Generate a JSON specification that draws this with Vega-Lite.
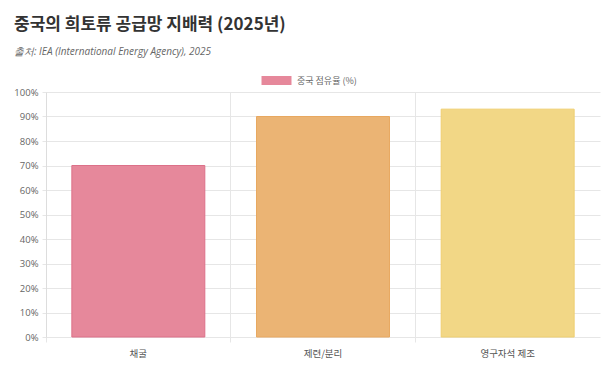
{
  "$schema": "https://vega.github.io/schema/vega-lite/v6.json",
  "width": 554,
  "height": 245,
  "autosize": {"type": "none"},
  "padding": {"left": 46, "top": 92, "right": 9, "bottom": 32},
  "background": "white",
  "config": {"view": {"stroke": null}, "font": "Noto Sans CJK KR"},
  "title": {
    "text": "중국의 희토류 공급망 지배력 (2025년)",
    "subtitle": "출처: IEA (International Energy Agency), 2025",
    "anchor": "start",
    "frame": "group",
    "font": "Noto Sans CJK KR",
    "fontSize": 17,
    "fontWeight": "bold",
    "color": "#333333",
    "subtitleFont": "Open Sans",
    "subtitleFontStyle": "italic",
    "subtitleFontSize": 10,
    "subtitleColor": "#666666",
    "subtitlePadding": 13,
    "dx": -32,
    "offset": 7
  },
  "data": {
    "values": [
      {"stage": "채굴", "share": 70},
      {"stage": "제련/분리", "share": 90},
      {"stage": "영구자석 제조", "share": 93}
    ]
  },
  "encoding": {
    "x": {
      "field": "stage",
      "type": "nominal",
      "sort": null,
      "scale": {"paddingInner": 0, "paddingOuter": 0},
      "axis": {
        "title": null,
        "labelAngle": 0,
        "bandPosition": 0,
        "grid": true,
        "gridColor": "#e6e6e6",
        "domain": false,
        "tickColor": "#e6e6e6",
        "tickSize": 5,
        "labelPadding": 6,
        "labelFontSize": 9.5,
        "labelColor": "#555555",
        "labelFont": "Noto Sans CJK KR"
      }
    },
    "y": {
      "field": "share",
      "type": "quantitative",
      "scale": {"domain": [0, 100]},
      "axis": {
        "title": null,
        "values": [0, 10, 20, 30, 40, 50, 60, 70, 80, 90, 100],
        "labelExpr": "datum.value + '%'",
        "gridColor": "#e6e6e6",
        "domainColor": "#dddddd",
        "tickColor": "#e6e6e6",
        "tickSize": 4,
        "labelPadding": 4,
        "labelFontSize": 9.5,
        "labelColor": "#666666",
        "labelFont": "Open Sans"
      }
    }
  },
  "layer": [
    {
      "mark": {"type": "bar", "width": {"band": 0.72}, "strokeWidth": 1},
      "encoding": {
        "fill": {
          "field": "stage",
          "type": "nominal",
          "sort": null,
          "scale": {"range": ["#e6889b", "#ebb474", "#f2d786"]},
          "legend": null
        },
        "stroke": {
          "field": "stage",
          "type": "nominal",
          "sort": null,
          "scale": {"range": ["#dc7189", "#e8a860", "#efcf70"]},
          "legend": null
        }
      }
    },
    {
      "mark": {"type": "point", "filled": true, "color": "#e6889b", "opacity": 0},
      "encoding": {
        "shape": {
          "datum": "중국 점유율 (%)",
          "scale": {"range": ["M-1,-0.3H1V0.3H-1Z"]},
          "legend": {
            "title": null,
            "orient": "none",
            "legendX": 215,
            "legendY": -27,
            "symbolSize": 900,
            "symbolFillColor": "#e6889b",
            "symbolStrokeColor": "#dc7189",
            "symbolStrokeWidth": 1,
            "symbolOpacity": 1,
            "labelFontSize": 9,
            "labelColor": "#666666",
            "labelFont": "Noto Sans CJK KR",
            "labelOffset": 5,
            "encode": {
              "symbols": {
                "update": {
                  "opacity": {"value": 1},
                  "fill": {"value": "#e6889b"},
                  "fillOpacity": {"value": 1},
                  "stroke": {"value": "#dc7189"},
                  "strokeWidth": {"value": 1}
                }
              }
            }
          }
        }
      }
    }
  ]
}
